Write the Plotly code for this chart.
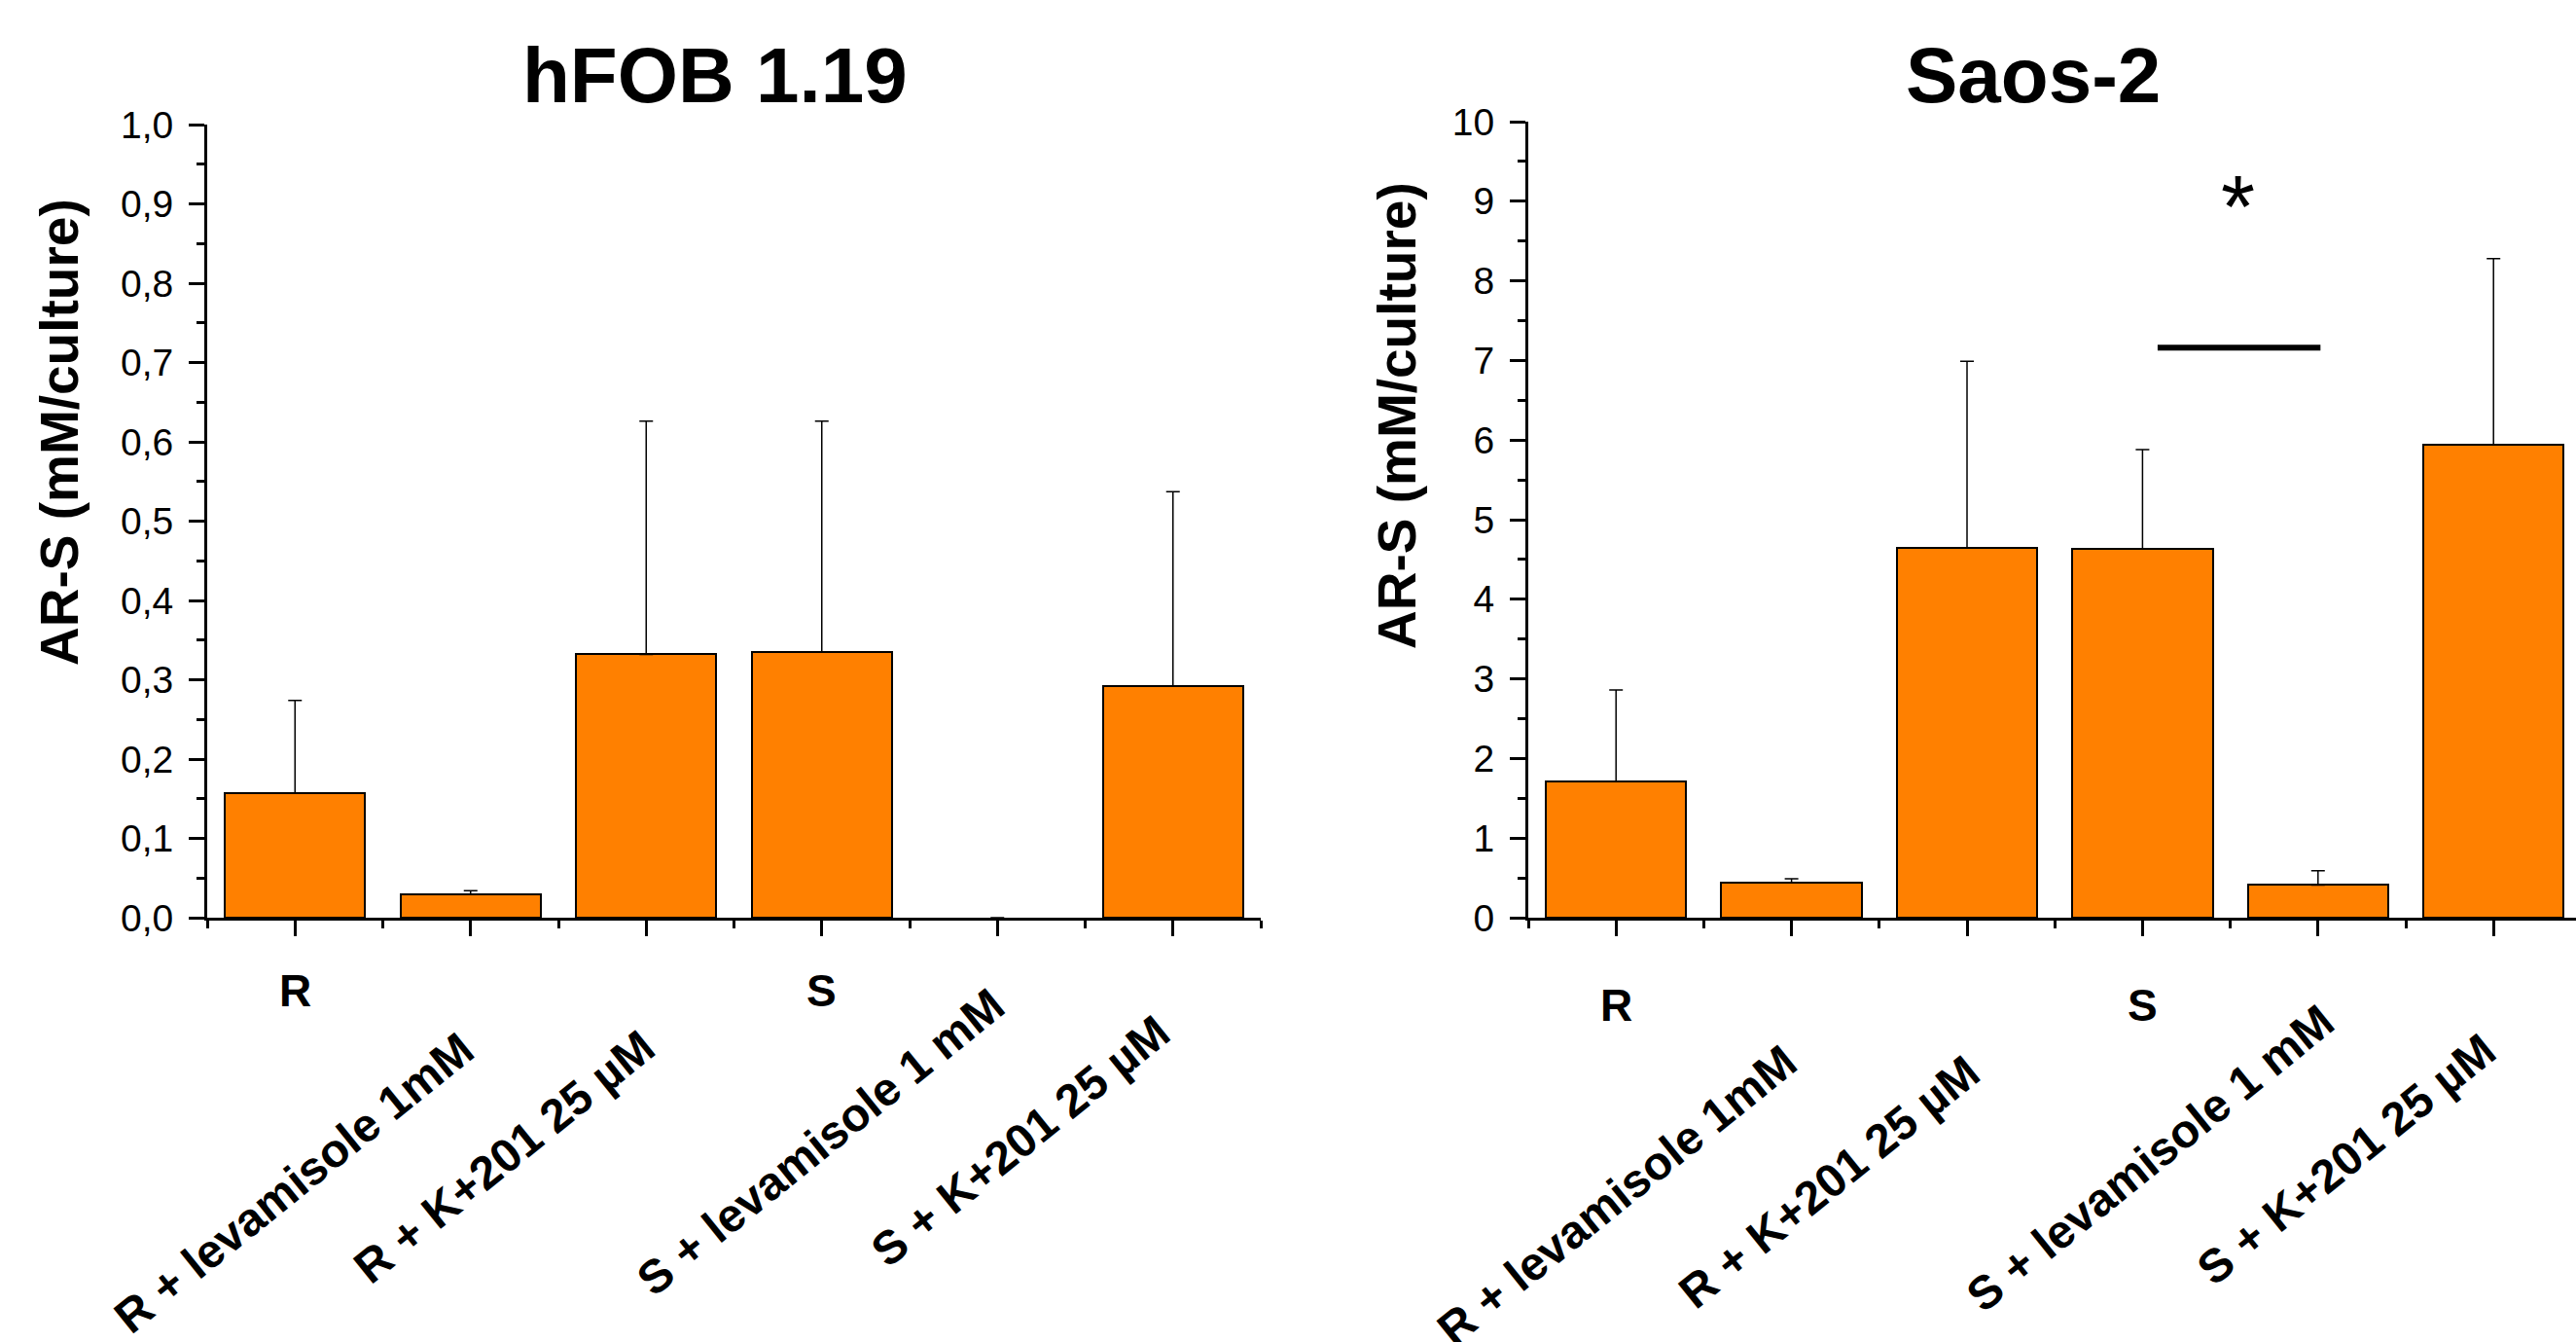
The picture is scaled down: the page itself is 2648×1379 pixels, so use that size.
import plotly.graph_objects as go

# ---------------- data ----------------
categories = ["R", "R + levamisole 1mM", "R + K+201 25 µM",
              "S", "S + levamisole 1 mM", "S + K+201 25 µM"]
hfob_mean = [0.157, 0.029, 0.332, 0.335, 0.0, 0.292]
hfob_sd = [0.117, 0.005, 0.294, 0.291, 0.0, 0.245]
saos_mean = [1.71, 0.44, 4.65, 4.63, 0.41, 5.94]
saos_sd = [1.15, 0.05, 2.34, 1.25, 0.18, 2.34]
panel_titles = ["hFOB 1.19", "Saos-2"]
y_title = "AR-S (mM/culture)"
sig_text = "*"

# ---------------- layout helpers ----------------
W, H = 2648, 1379
FONT = "Liberation Sans, Arial, sans-serif"
ORANGE = "#FF8000"


def fx(px):
    return px / W


def fy(py):
    return 1 - py / H


idx = list(range(len(categories)))

fig = go.Figure()

for k, (mean, sd) in enumerate([(hfob_mean, hfob_sd), (saos_mean, saos_sd)]):
    sfx = "" if k == 0 else "2"
    fig.add_trace(go.Bar(
        x=idx, y=mean, width=0.8,
        marker=dict(color=ORANGE,
                    line=dict(color="black", width=[2 if v > 0 else 0 for v in mean])),
        error_y=dict(type="data", array=sd, arrayminus=[0] * len(sd),
                     symmetric=False, color="black", thickness=1.5, width=7),
        xaxis="x" + sfx, yaxis="y" + sfx, showlegend=False,
        hoverinfo="x+y",
    ))

common_x = dict(
    showline=True, linecolor="black", linewidth=3,
    ticks="outside", ticklen=16, tickwidth=3, tickcolor="black",
    tickmode="array", tickvals=idx, showticklabels=False,
    minor=dict(tickmode="array", tickvals=[i - 0.5 for i in range(len(categories) + 1)],
               ticks="outside", ticklen=8, tickwidth=3, tickcolor="black"),
    showgrid=False, zeroline=False, fixedrange=True, automargin=False,
)
common_y = dict(
    showline=True, linecolor="black", linewidth=3,
    ticks="outside", ticklen=16, tickwidth=3, tickcolor="black",
    tickfont=dict(family=FONT, size=39, color="black"),
    showgrid=False, zeroline=False, ticklabelstandoff=8, automargin=False,
    fixedrange=True,
)

fig.update_layout(
    width=W, height=H,
    margin=dict(l=0, r=0, t=0, b=0, autoexpand=False),
    paper_bgcolor="white", plot_bgcolor="white",
    separators=", ",
    bargap=0,
    xaxis=dict(domain=[fx(213), fx(1296)], range=[-0.5, 5.5], anchor="y", **common_x),
    yaxis=dict(domain=[fy(943), fy(128)], range=[0, 1], anchor="x",
               tick0=0, dtick=0.1, tickformat=".1f",
               minor=dict(tick0=0, dtick=0.05, ticks="outside", ticklen=8,
                          tickwidth=3, tickcolor="black"),
               **common_y),
    xaxis2=dict(domain=[fx(1571), 1.0], range=[-0.5, 5.47], anchor="y2", **common_x),
    yaxis2=dict(domain=[fy(943), fy(125)], range=[0, 10], anchor="x2",
                tick0=0, dtick=1, tickformat="d",
                minor=dict(tick0=0, dtick=0.5, ticks="outside", ticklen=8,
                           tickwidth=3, tickcolor="black"),
                **common_y),
)

ann = []
# panel titles
for t, cx in zip(panel_titles, [735, 2090]):
    ann.append(dict(text="<b>%s</b>" % t, x=fx(cx), y=fy(77), xref="paper", yref="paper",
                    xanchor="center", yanchor="middle", showarrow=False,
                    font=dict(family=FONT, size=80, color="black")))
# y-axis titles
for cx, cy in [(61, 444), (1436, 427)]:
    ann.append(dict(text="<b>%s</b>" % y_title, x=fx(cx), y=fy(cy), xref="paper", yref="paper",
                    xanchor="center", yanchor="middle", textangle=-90, showarrow=False,
                    font=dict(family=FONT, size=55, color="black")))

# category labels: upright for R / S, rotated for the treatments
flat_y = [1018, 1033]
rot_pos = [  # (x offset px from category centre, y centre px)
    {1: (-182, 1215), 2: (-146, 1188), 4: (-182, 1173), 5: (-157, 1172)},
    {1: (-180, 1228), 2: (-142, 1214), 4: (-173, 1190), 5: (-152, 1191)},
]
for k in range(2):
    xr = "x" if k == 0 else "x2"
    for i, c in enumerate(categories):
        if i in (0, 3):
            ann.append(dict(text="<b>%s</b>" % c, x=i, y=fy(flat_y[k]), xref=xr, yref="paper",
                            xanchor="center", yanchor="middle", showarrow=False,
                            font=dict(family=FONT, size=46, color="black")))
        else:
            dx, cy = rot_pos[k][i]
            ann.append(dict(text="<b>%s</b>" % c, x=i, xshift=dx, y=fy(cy), xref=xr, yref="paper",
                            xanchor="center", yanchor="middle", textangle=-39, showarrow=False,
                            font=dict(family=FONT, size=48, color="black")))

# significance marker (Saos-2: S vs S + levamisole)
ann.append(dict(text=sig_text, x=3.544, y=9.14, xref="x2", yref="y2", yshift=-18,
                xanchor="center", yanchor="middle", showarrow=False,
                font=dict(family=FONT, size=90, color="black")))
fig.add_shape(type="line", xref="x2", yref="y2", x0=3.086, x1=4.014, y0=7.16, y1=7.16,
              line=dict(color="black", width=6))

fig.update_layout(annotations=ann)
fig.write_html("out.html", config={"displayModeBar": False},
               post_script="document.body.style.margin='0px';")
